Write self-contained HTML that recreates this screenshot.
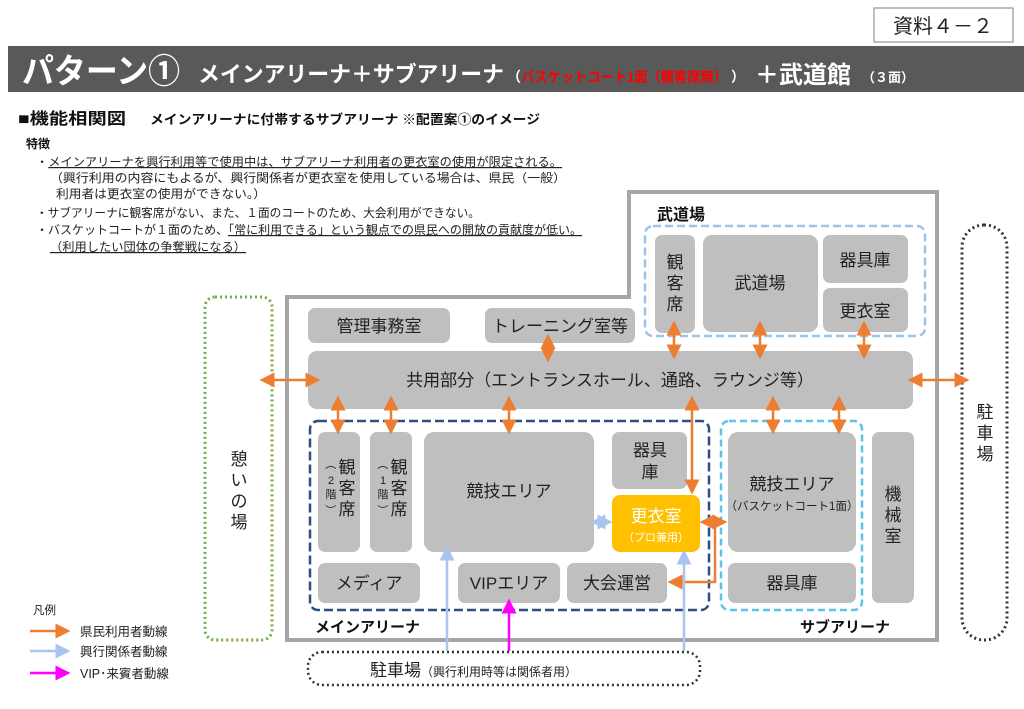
<!DOCTYPE html>
<html><head><meta charset="utf-8"><style>
html,body{margin:0;padding:0;background:#fff;}
svg{display:block;font-family:"Liberation Sans","Noto Sans CJK JP",sans-serif;}
</style></head><body>
<svg width="1024" height="709" viewBox="0 0 1024 709" xmlns="http://www.w3.org/2000/svg">
<defs>
<marker id="o" markerWidth="6" markerHeight="6" refX="5" refY="3" orient="auto-start-reverse" markerUnits="strokeWidth"><path d="M0,0 L6,3 L0,6 z" fill="#ed7d31"/></marker>
<marker id="b" markerWidth="6" markerHeight="6" refX="5" refY="3" orient="auto-start-reverse" markerUnits="strokeWidth"><path d="M0,0 L6,3 L0,6 z" fill="#a9c4f0"/></marker>
<marker id="m" markerWidth="6" markerHeight="6" refX="5" refY="3" orient="auto-start-reverse" markerUnits="strokeWidth"><path d="M0,0 L6,3 L0,6 z" fill="#ff00ff"/></marker>
</defs>
<rect x="874" y="8" width="139" height="34" fill="#fff" stroke="#7f7f7f" stroke-width="1"/>
<text x="943" y="33" font-size="20" text-anchor="middle" fill="#222">資料４－２</text>
<rect x="8" y="46" width="1016" height="46" fill="#595959"/>
<text x="22" y="83" font-size="34" font-weight="bold" fill="#fff" textLength="158" lengthAdjust="spacingAndGlyphs">パターン①</text>
<text x="198" y="82" font-size="22" font-weight="bold" fill="#fff" textLength="306" lengthAdjust="spacingAndGlyphs">メインアリーナ＋サブアリーナ</text>
<text x="507" y="82" font-size="14" font-weight="bold" fill="#fff">（</text>
<text x="521" y="82" font-size="14" font-weight="bold" fill="#ff0000" textLength="206" lengthAdjust="spacingAndGlyphs">バスケットコート1面（観客席無）</text>
<text x="731" y="82" font-size="14" font-weight="bold" fill="#fff">）</text>
<text x="755" y="83" font-size="24" font-weight="bold" fill="#fff">＋武道館</text>
<text x="862" y="82" font-size="13" font-weight="bold" fill="#fff">（３面）</text>
<text x="18" y="124" font-size="16" font-weight="bold" fill="#111" textLength="108" lengthAdjust="spacingAndGlyphs">■機能相関図</text>
<text x="150" y="124" font-size="13" font-weight="bold" fill="#111" textLength="390" lengthAdjust="spacingAndGlyphs">メインアリーナに付帯するサブアリーナ  ※配置案①のイメージ</text>
<text x="26" y="148" font-size="12" font-weight="bold" fill="#111">特徴</text>
<g font-size="12" fill="#222">
<text x="36" y="166" textLength="526" lengthAdjust="spacingAndGlyphs">・<tspan text-decoration="underline">メインアリーナを興行利用等で使用中は、サブアリーナ利用者の更衣室の使用が限定される。</tspan></text>
<text x="50" y="182" textLength="516" lengthAdjust="spacingAndGlyphs">（興行利用の内容にもよるが、興行関係者が更衣室を使用している場合は、県民（一般）</text>
<text x="56" y="198" textLength="210" lengthAdjust="spacingAndGlyphs">利用者は更衣室の使用ができない。）</text>
<text x="36" y="217" textLength="444" lengthAdjust="spacingAndGlyphs">・サブアリーナに観客席がない、また、１面のコートのため、大会利用ができない。</text>
<text x="36" y="234" textLength="546" lengthAdjust="spacingAndGlyphs">・バスケットコートが１面のため、<tspan text-decoration="underline">「常に利用できる」という観点での県民への開放の貢献度が低い。</tspan></text>
<text x="50" y="251" textLength="196" lengthAdjust="spacingAndGlyphs"><tspan text-decoration="underline">（利用したい団体の争奪戦になる）</tspan></text>
</g>
<path d="M287,297 L629,297 L629,192 L937,192 L937,640 L287,640 Z" fill="#fff" stroke="#a6a6a6" stroke-width="4"/>
<text x="657" y="220" font-size="16" font-weight="bold" fill="#111">武道場</text>
<rect x="645" y="226" width="280" height="110" rx="8" fill="none" stroke="#9dc3e6" stroke-width="2.5" stroke-dasharray="8,4"/>
<g fill="#bfbfbf">
<rect x="655" y="235" width="40" height="98" rx="7"/>
<rect x="703" y="235" width="115" height="97" rx="9"/>
<rect x="823" y="235" width="85" height="48" rx="7"/>
<rect x="823" y="288" width="85" height="44" rx="7"/>
<rect x="308" y="308" width="142" height="35" rx="7"/>
<rect x="485" y="308" width="150" height="35" rx="7"/>
<rect x="308" y="351" width="605" height="58" rx="9"/>
<rect x="318" y="432" width="42" height="120" rx="7"/>
<rect x="370" y="432" width="42" height="120" rx="7"/>
<rect x="424" y="432" width="170" height="120" rx="10"/>
<rect x="612" y="432" width="75" height="57" rx="7"/>
<rect x="318" y="563" width="102" height="40" rx="7"/>
<rect x="458" y="563" width="102" height="40" rx="7"/>
<rect x="567" y="563" width="100" height="40" rx="7"/>
<rect x="728" y="432" width="128" height="120" rx="10"/>
<rect x="728" y="563" width="128" height="40" rx="7"/>
<rect x="872" y="432" width="42" height="171" rx="7"/>
</g>
<rect x="612" y="495" width="88" height="57" rx="8" fill="#ffc000"/>
<rect x="310" y="421" width="399" height="189" rx="8" fill="none" stroke="#2f4f7f" stroke-width="2.5" stroke-dasharray="9,4"/>
<rect x="721" y="421" width="141" height="189" rx="8" fill="none" stroke="#5bc4e8" stroke-width="2.5" stroke-dasharray="7,4"/>
<rect x="205" y="297" width="67" height="343" rx="10" fill="none" stroke="#70ad47" stroke-width="3" stroke-dasharray="2,3"/>
<rect x="962" y="225" width="45" height="415" rx="22" fill="none" stroke="#333" stroke-width="3" stroke-dasharray="2,3"/>
<rect x="308" y="652" width="392" height="33" rx="14" fill="none" stroke="#333" stroke-width="2.5" stroke-dasharray="2,3"/>
<g font-size="17" fill="#222" text-anchor="middle">
<text x="675" y="268">観</text><text x="675" y="289">客</text><text x="675" y="310">席</text>
<text x="760" y="289">武道場</text>
<text x="865" y="266">器具庫</text>
<text x="865" y="317">更衣室</text>
<text x="379" y="332">管理事務室</text>
<text x="560" y="332">トレーニング室等</text>
<text x="610" y="386">共用部分（エントランスホール、通路、ラウンジ等）</text>
<text x="347" y="473">観</text><text x="347" y="494">客</text><text x="347" y="515">席</text>
<text x="399" y="473">観</text><text x="399" y="494">客</text><text x="399" y="515">席</text>
<text x="509" y="497">競技エリア</text>
<text x="650" y="456">器具</text><text x="650" y="478">庫</text>
<text x="369" y="589">メディア</text>
<text x="509" y="589">VIPエリア</text>
<text x="617" y="589">大会運営</text>
<text x="792" y="490">競技エリア</text>
<text x="792" y="589">器具庫</text>
<text x="893" y="500">機</text><text x="893" y="521">械</text><text x="893" y="542">室</text>
<text x="239" y="465">憩</text><text x="239" y="486">い</text><text x="239" y="507">の</text><text x="239" y="528">場</text>
<text x="985" y="418">駐</text><text x="985" y="439">車</text><text x="985" y="460">場</text>
</g>
<text x="656" y="522" font-size="17" fill="#fff" text-anchor="middle">更衣室</text>
<text x="656" y="541" font-size="11" fill="#fff" text-anchor="middle">（プロ兼用）</text>
<text x="792" y="510" font-size="11.5" fill="#222" text-anchor="middle">（バスケットコート1面）</text>
<g font-size="11" fill="#222" text-anchor="middle">
<text x="331" y="468" transform="rotate(90 331 464)">（</text><text x="331" y="484">2</text><text x="331" y="498">階</text><text x="331" y="514" transform="rotate(90 331 510)">）</text>
<text x="383" y="468" transform="rotate(90 383 464)">（</text><text x="383" y="484">1</text><text x="383" y="498">階</text><text x="383" y="514" transform="rotate(90 383 510)">）</text>
</g>
<text x="315" y="632" font-size="15" font-weight="bold" fill="#111">メインアリーナ</text>
<text x="800" y="632" font-size="15" font-weight="bold" fill="#111">サブアリーナ</text>
<text x="370" y="676" font-size="17" fill="#222">駐車場<tspan font-size="12">（興行利用時等は関係者用）</tspan></text>
<g stroke="#ed7d31" stroke-width="2.5" fill="none">
<line x1="262" y1="380" x2="318" y2="380" marker-start="url(#o)" marker-end="url(#o)"/>
<line x1="910" y1="380" x2="967" y2="380" marker-start="url(#o)" marker-end="url(#o)"/>
<line x1="548" y1="336" x2="548" y2="360" marker-start="url(#o)" marker-end="url(#o)"/>
<line x1="674" y1="323" x2="674" y2="357" marker-start="url(#o)" marker-end="url(#o)"/>
<line x1="760" y1="323" x2="760" y2="357" marker-start="url(#o)" marker-end="url(#o)"/>
<line x1="864" y1="323" x2="864" y2="357" marker-start="url(#o)" marker-end="url(#o)"/>
<line x1="338" y1="398" x2="338" y2="432" marker-start="url(#o)" marker-end="url(#o)"/>
<line x1="391" y1="398" x2="391" y2="432" marker-start="url(#o)" marker-end="url(#o)"/>
<line x1="509" y1="398" x2="509" y2="432" marker-start="url(#o)" marker-end="url(#o)"/>
<line x1="773" y1="398" x2="773" y2="432" marker-start="url(#o)" marker-end="url(#o)"/>
<line x1="839" y1="398" x2="839" y2="432" marker-start="url(#o)" marker-end="url(#o)"/>
<line x1="692" y1="398" x2="692" y2="492" marker-start="url(#o)" marker-end="url(#o)"/>
<line x1="702" y1="522" x2="725" y2="522" marker-start="url(#o)" marker-end="url(#o)"/>
<polyline points="715,522 715,582 670,582" marker-end="url(#o)"/>
<line x1="30" y1="631" x2="68" y2="631" marker-end="url(#o)"/>
</g>
<g stroke="#a9c4f0" stroke-width="2.5" fill="none">
<line x1="593" y1="522" x2="610" y2="522" marker-start="url(#b)" marker-end="url(#b)"/>
<line x1="447" y1="651" x2="447" y2="548" marker-end="url(#b)"/>
<line x1="684" y1="651" x2="684" y2="552" marker-end="url(#b)"/>
<line x1="30" y1="651" x2="68" y2="651" marker-end="url(#b)"/>
</g>
<g stroke="#ff00ff" stroke-width="2.5" fill="none">
<line x1="509" y1="651" x2="509" y2="601" marker-end="url(#m)"/>
<line x1="30" y1="673" x2="68" y2="673" marker-end="url(#m)"/>
</g>
<text x="33" y="614" font-size="11.5" fill="#222">凡例</text>
<g font-size="12.5" fill="#222">
<text x="80" y="636">県民利用者動線</text>
<text x="80" y="656">興行関係者動線</text>
<text x="80" y="678">VIP･来賓者動線</text>
</g>
</svg>
</body></html>
